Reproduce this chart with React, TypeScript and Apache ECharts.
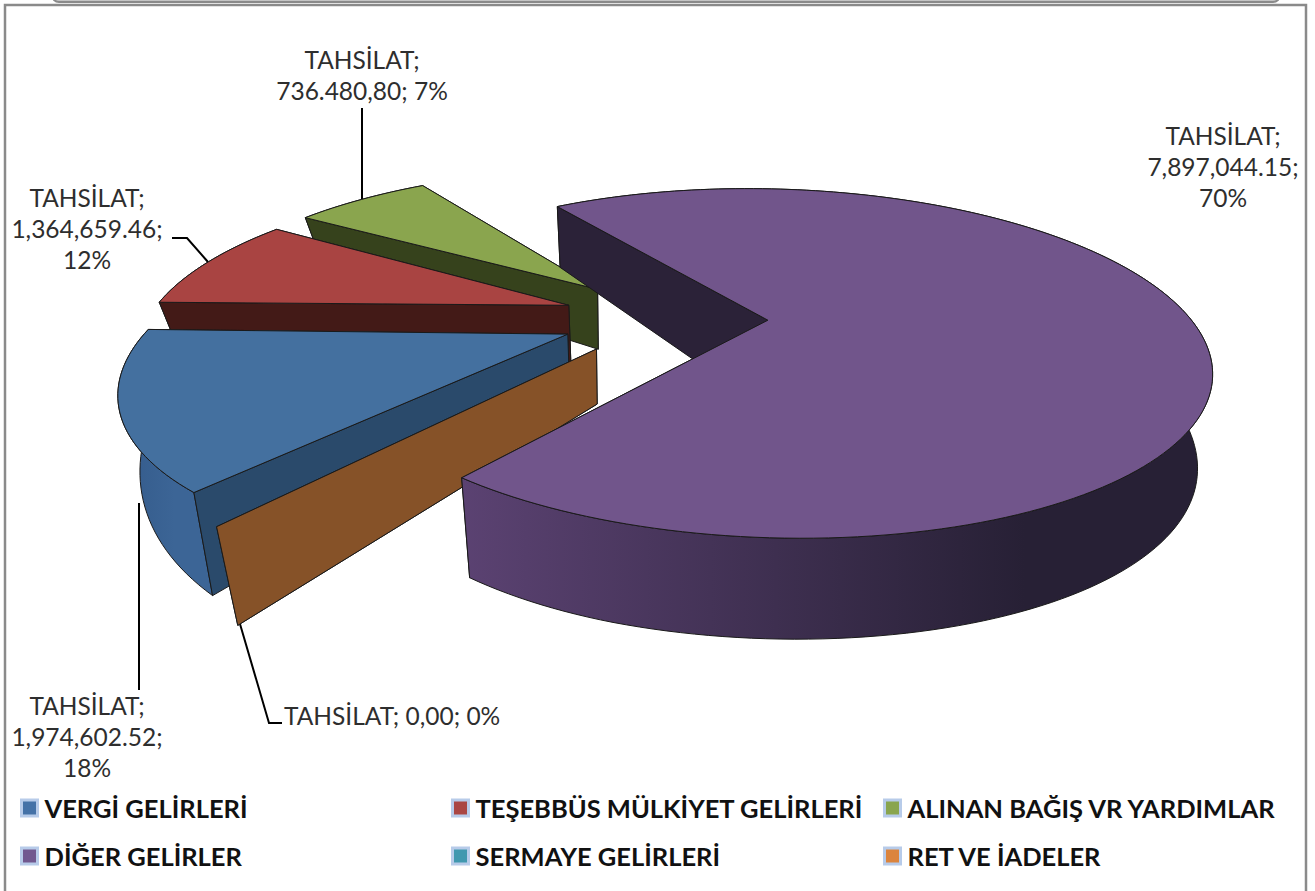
import React, { useEffect, useRef } from "react";
import * as echarts from "echarts";

// ---- data ----
const categories = ["VERGİ GELİRLERİ", "TEŞEBBÜS MÜLKİYET GELİRLERİ", "ALINAN BAĞIŞ VR YARDIMLAR", "DİĞER GELİRLER", "SERMAYE GELİRLERİ", "RET VE İADELER"];
const measureName = "TAHSİLAT";
const valueLabels = ["1,974,602.52", "1,364,659.46", "736.480,80", "7,897,044.15", "", "0,00"];
const percentLabels = ["18%", "12%", "7%", "70%", "", "0%"];
// share of the full turn each slice occupies as drawn (percent)
const drawnShares = [14.2, 9.4, 7, 69.4, 0, 0];

// ---- styles ----
const topColors = ["#44709f", "#a94442", "#8aa54e", "#71558b", "#4198af", "#db843d"];
const cutColors = ["#2a4a6b", "#431a17", "#36421c", "#2b2238", "#1f5a6b", "#865228"];
const legendColors = ["#4572a7", "#aa4643", "#89a54e", "#71588f", "#4198af", "#db843d"];
const rimStops: [string, string][] = [
  ["#335a8a", "#3c6596"], ["#5a2420", "#431a17"], ["#4a5a26", "#36421c"],
  ["#5b4272", "#272035"], ["#1f5a6b", "#1f5a6b"], ["#865228", "#865228"],
];
const paintOrder = [2, 1, 0, 4, 5, 3];

// ---- projection of the exploded, tilted disc ----
const CX = 665, CY = 317, RX = 428, RY = 165, P = 0.25, EXPLODE = 0.24;
const START_ANGLE = 129.5;
const VX = 609;
const shrinkLeft = [0.045, 0.054, 0.054, 0.054, 0.054, 0.054];
const SHRINK_RIGHT = 0.025;
const anchorX = [0.15, 0, -0.02, 0, 0, 0];
const radiusScale = [0.965, 0.98, 0.98, 0.985, 1.01, 1.01];
const depth0 = [55, 60, 60, 88, 55, 55];
const depth1 = [65, 30, 30, 24, 56, 56];
const depth2 = [0, 0, 0, -11, 0, 0];
// small corrections for the drawn foreshortening (degrees)
const startNudge = [0.5, 0.5, -1.5, -3, 0, 0];
const endNudge = [1, -1, -3, -0.4, 0, 0];

const rad = (d: number) => (d * Math.PI) / 180;
const total = drawnShares.reduce((a, b) => a + b, 0);
const starts: number[] = [];
drawnShares.reduce((acc, v, i) => { starts[i] = acc; return acc + (v / total) * 360; }, START_ANGLE);
const sweeps = drawnShares.map((v) => (v / total) * 360);

function project(i: number, r: number, ang: number, bottom: boolean): [number, number] {
  const mid = rad(starts[i] + sweeps[i] / 2);
  const ex = EXPLODE * Math.cos(mid), ey = EXPLODE * Math.sin(mid);
  const lx = r * radiusScale[i] * Math.cos(rad(ang)), ly = r * radiusScale[i] * Math.sin(rad(ang));
  const X = ex + lx, Y = ey + ly;
  const w = 1 - P * Y;
  const ax = anchorX[i];
  const sx = CX + RX * ax + (RX * (X - ax)) / w;
  const sy = CY + (RY * Y) / w;
  if (!bottom) return [sx, sy];
  const s = sx < VX ? shrinkLeft[i] : SHRINK_RIGHT;
  return [VX + (sx - VX) * (1 - s), sy + depth0[i] + depth1[i] * ly + depth2[i] * ly * ly];
}

function arcPoints(i: number, from: number, to: number, bottom: boolean) {
  const n = Math.max(1, Math.ceil(Math.abs(to - from) / 1.5));
  const pts: [number, number][] = [];
  for (let k = 0; k <= n; k++) pts.push(project(i, 1, from + ((to - from) * k) / n, bottom));
  return pts;
}

const edge = { stroke: "#1a1a1a", lineWidth: 1 };

function renderSlice(i: number) {
  const a0 = starts[i] + startNudge[i], a1 = starts[i] + sweeps[i] + endNudge[i];
  const cut = (ang: number) => ({
    type: "polygon",
    silent: true,
    shape: { points: [project(i, 0, ang, false), project(i, 1, ang, false), project(i, 1, ang, true), project(i, 0, ang, true)] },
    style: { fill: cutColors[i], ...edge },
  });
  const children: any[] = [];
  if (sweeps[i] > 0) {
    children.push(cut(a1));
    const topArc = arcPoints(i, a0, a1, false);
    const botArc = arcPoints(i, a0, a1, true).reverse();
    const xs = topArc.map((p) => p[0]);
    const x0 = Math.min(...xs), x1 = Math.max(...xs);
    children.push({
      type: "polygon",
      silent: true,
      shape: { points: [...topArc, ...botArc] },
      style: {
        fill: new echarts.graphic.LinearGradient(x0, 0, x0 + (x1 - x0) * 0.75, 0, [
          { offset: 0, color: rimStops[i][0] },
          { offset: 1, color: rimStops[i][1] },
        ], true),
        ...edge,
      },
    });
    children.push(cut(a0));
    children.push({
      type: "polygon",
      silent: true,
      shape: { points: [project(i, 0, a0, false), ...topArc] },
      style: { fill: topColors[i], ...edge },
    });
  } else {
    children.push(cut(a0));
  }
  return { type: "group", children };
}

const labelOf = (i: number, sep: string[]) =>
  `${measureName};${sep[0]}${valueLabels[i]};${sep[1]}${percentLabels[i]}`;

const labelFont = '24.5px Lato, "Open Sans", sans-serif';
const labelFill = "#2e2e2e";
const LINE_H = 31;

const textAt = (text: string, x: number, y: number, align = "center") => ({
  type: "text",
  silent: true,
  style: { text, x, y, textAlign: align, textVerticalAlign: "middle", font: labelFont, fill: labelFill, lineHeight: LINE_H },
});
const leader = (points: number[][]) => ({
  type: "polyline",
  silent: true,
  shape: { points },
  style: { stroke: "#000", lineWidth: 2, fill: "none" },
});

const legendX = [20, 451, 883];
const legendY = [795, 843];

export default function App() {
  const ref = useRef<HTMLDivElement>(null);
  useEffect(() => {
    document.body.style.margin = "0";
    const chart = echarts.init(ref.current!, undefined, { renderer: "svg" });
    chart.setOption({
      animation: false,
      backgroundColor: "#ffffff",
      legend: categories.map((name, i) => ({
        data: [name],
        left: legendX[i % 3],
        top: legendY[Math.floor(i / 3)],
        padding: 0,
        itemWidth: 16,
        itemHeight: 16,
        itemGap: 0,
        selectedMode: false,
        icon: "rect",
        itemStyle: { color: legendColors[i], borderColor: "#b7cbe9", borderWidth: 3 },
        textStyle: { fontFamily: 'Lato, "Open Sans", sans-serif', fontWeight: "bold", fontSize: 25.5, color: "#111", padding: [0, 0, 0, 2] },
      })),
      graphic: [
        { type: "rect", silent: true, shape: { x: 52, y: -12, width: 1228, height: 14, r: 8 }, style: { fill: "#c4c4c4", stroke: "#8a8a8a", lineWidth: 2 } },
        { type: "rect", silent: true, shape: { x: 5, y: 5, width: 1301, height: 900 }, style: { fill: "none", stroke: "#8a8a8a", lineWidth: 2.5 } },
        textAt(labelOf(3, ["\n", "\n"]), 1223, 166),
        textAt(labelOf(2, ["\n", " "]), 362, 75),
        textAt(labelOf(1, ["\n", "\n"]), 87, 228),
        textAt(labelOf(0, ["\n", "\n"]), 87, 736),
        textAt(labelOf(5, [" ", " "]), 284, 715, "left"),
        leader([[362, 108], [362, 200]]),
        leader([[172, 238], [187, 238], [208, 262]]),
        leader([[139, 503], [139, 690]]),
        leader([[240, 624], [269, 723], [282, 723]]),
      ],
      series: paintOrder.map((i) => ({
        type: "custom",
        name: categories[i],
        coordinateSystem: "none",
        silent: true,
        itemStyle: { color: legendColors[i] },
        data: [[drawnShares[i]]],
        renderItem: () => renderSlice(i),
      })),
    });
    return () => chart.dispose();
  }, []);
  return <div ref={ref} style={{ position: "absolute", left: 0, top: 0, width: 1315, height: 891 }} />;
}
